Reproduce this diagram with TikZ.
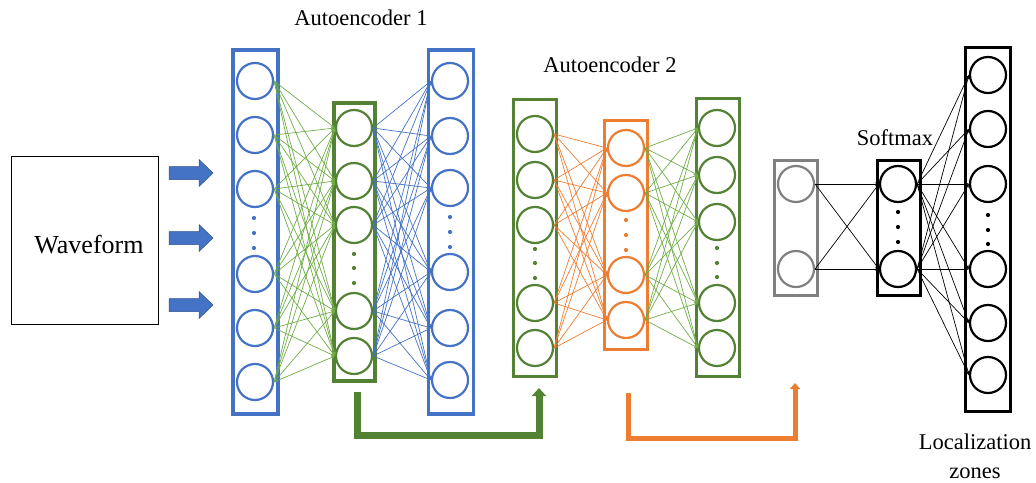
\documentclass[tikz,border=0pt]{standalone}
\usepackage{fontspec}
\setmainfont{Liberation Serif}
\usetikzlibrary{arrows.meta}

\definecolor{aeblue}{HTML}{4472C4}
\definecolor{aedarkblue}{HTML}{2F528F}
\definecolor{aegreen}{HTML}{548235}
\definecolor{wiregreen}{HTML}{70AD47}
\definecolor{aeorange}{HTML}{ED7D31}
\definecolor{aegray}{HTML}{808080}

\tikzset{
  neuron/.style={circle, draw, line width=2.2pt, minimum size=36pt, inner sep=0pt},
  layerbox/.style={draw, line width=3.8pt, inner sep=0pt},
  wire/.style={line width=0.7pt, -{Stealth[length=4pt,width=3.5pt]}},
  dotmark/.style={circle, fill, inner sep=0pt, minimum size=4.2pt},
  titletext/.style={font=\fontsize{22.5}{26}\selectfont},
}

\begin{document}
\begin{tikzpicture}[x=1pt, y=-1pt]
    \useasboundingbox (0,0) rectangle (1036,482);

    % input signal
    \node[draw, line width=0.8pt, minimum width=147pt, minimum height=168pt] (wave) at (84.5,240) {};
    \node[font=\fontsize{26}{30}\selectfont] (wavetext) at (89,245) {Waveform};
    \foreach \y in {173,238,305}
        \filldraw[aeblue, draw=aedarkblue, line width=0.5pt]
            (169,\y-6.5) -- (199,\y-6.5) -- (199,\y-13.5) -- (213,\y)
            -- (199,\y+13.5) -- (199,\y+6.5) -- (169,\y+6.5) -- cycle;

    % autoencoder 1
    \node[layerbox, aeblue, minimum width=45pt, minimum height=364pt] (boxin) at (255.5,232) {};
    \node[layerbox, aegreen, minimum width=41pt, minimum height=278pt] (boxhid) at (354.5,242) {};
    \node[layerbox, aeblue, minimum width=45pt, minimum height=364pt] (boxout) at (451,232) {};
    \node[titletext] (ae1) at (361,18) {Autoencoder 1};

    \foreach \y [count=\i] in {81,135,189,274,328,382}
        \node[neuron, aeblue] (in\i) at (255,\y) {};
    \foreach \y [count=\i] in {128,181,225,311,356}
        \node[neuron, aegreen] (hid\i) at (354,\y) {};
    \foreach \y [count=\i] in {81,136,188,272,328,380}
        \node[neuron, aeblue] (out\i) at (450,\y) {};
    \foreach \y in {218,233,248} {
        \node[dotmark, aeblue] at (254,\y) {};
        \node[dotmark, aeblue] at (450,\y-1) {};
    }
    \foreach \y in {254,268,283}
        \node[dotmark, aegreen] at (354,\y) {};

    \foreach \i in {1,...,6}
        \foreach \j in {1,...,5} {
            \draw[wire, wiregreen] (in\i.east) -- (hid\j.west);
            \draw[wire, aeblue] (hid\j.east) -- (out\i.west);
        }

    % autoencoder 2
    \node[layerbox, aegreen, minimum width=43pt, minimum height=277pt] (boxin2) at (535,238) {};
    \node[layerbox, aeorange, minimum width=43pt, minimum height=229pt] (boxhid2) at (626,235) {};
    \node[layerbox, aegreen, minimum width=43pt, minimum height=278pt] (boxout2) at (718,237.5) {};
    \node[titletext] (ae2) at (610,65) {Autoencoder 2};

    \foreach \y [count=\i] in {134,180,225,303,348}
        \node[neuron, aegreen] (inb\i) at (535,\y) {};
    \foreach \y [count=\i] in {148,193,275,320}
        \node[neuron, aeorange] (hidb\i) at (626,\y) {};
    \foreach \y [count=\i] in {128,175,222,303,348}
        \node[neuron, aegreen] (outb\i) at (717,\y) {};
    \foreach \y in {249,263,278}
        \node[dotmark, aegreen] at (535,\y) {};
    \foreach \y in {220,235,250}
        \node[dotmark, aeorange] at (626,\y) {};
    \foreach \y in {248,263,277}
        \node[dotmark, aegreen] at (717,\y) {};

    \foreach \i in {1,...,5}
        \foreach \j in {1,...,4} {
            \draw[wire, aeorange] (inb\i.east) -- (hidb\j.west);
            \draw[wire, wiregreen] (hidb\j.east) -- (outb\i.west);
        }

    % classifier
    \node[layerbox, aegray, line width=3.5pt, minimum width=43pt, minimum height=135pt] (boxfeat) at (796,228) {};
    \node[layerbox, black, minimum width=43pt, minimum height=135pt] (boxsoft) at (899,228) {};
    \node[layerbox, black, minimum width=45pt, minimum height=364pt] (boxzone) at (988,229.5) {};
    \node[titletext] (soft) at (895,138) {Softmax};
    \node[titletext, align=center, inner sep=0pt] (zones) at (975,456) {Localization\\[3pt]zones};

    \foreach \y [count=\i] in {184,269} {
        \node[neuron, aegray] (feat\i) at (796,\y) {};
        \node[neuron, black] (sm\i) at (898,\y) {};
    }
    \foreach \y [count=\i] in {75,129,184,269,323,375}
        \node[neuron, black] (zone\i) at (988,\y) {};
    \foreach \y in {212,227,242}
        \node[dotmark, black] at (898,\y) {};
    \foreach \y in {215,230,244}
        \node[dotmark, black] at (988,\y) {};

    \foreach \i in {1,2} {
        \foreach \j in {1,2}
            \draw[wire, black] (feat\i.east) -- (sm\j.west);
        \foreach \j in {1,...,6}
            \draw[wire, black] (sm\i.east) -- (zone\j.west);
    }

    % weight transfer
    \coordinate (gstart) at (357,392);
    \coordinate (gend) at (539,388);
    \coordinate (ostart) at (628,393);
    \coordinate (oend) at (795,383);
    \draw[aegreen, line width=7pt, -{Triangle[length=8pt,width=14pt]}]
        (gstart) -- ++(0,43) -| (gend);
    \draw[aeorange, line width=5pt, -{Triangle[length=6pt,width=10pt]}]
        (ostart) -- ++(0,45) -| (oend);

\end{tikzpicture}
\end{document}
